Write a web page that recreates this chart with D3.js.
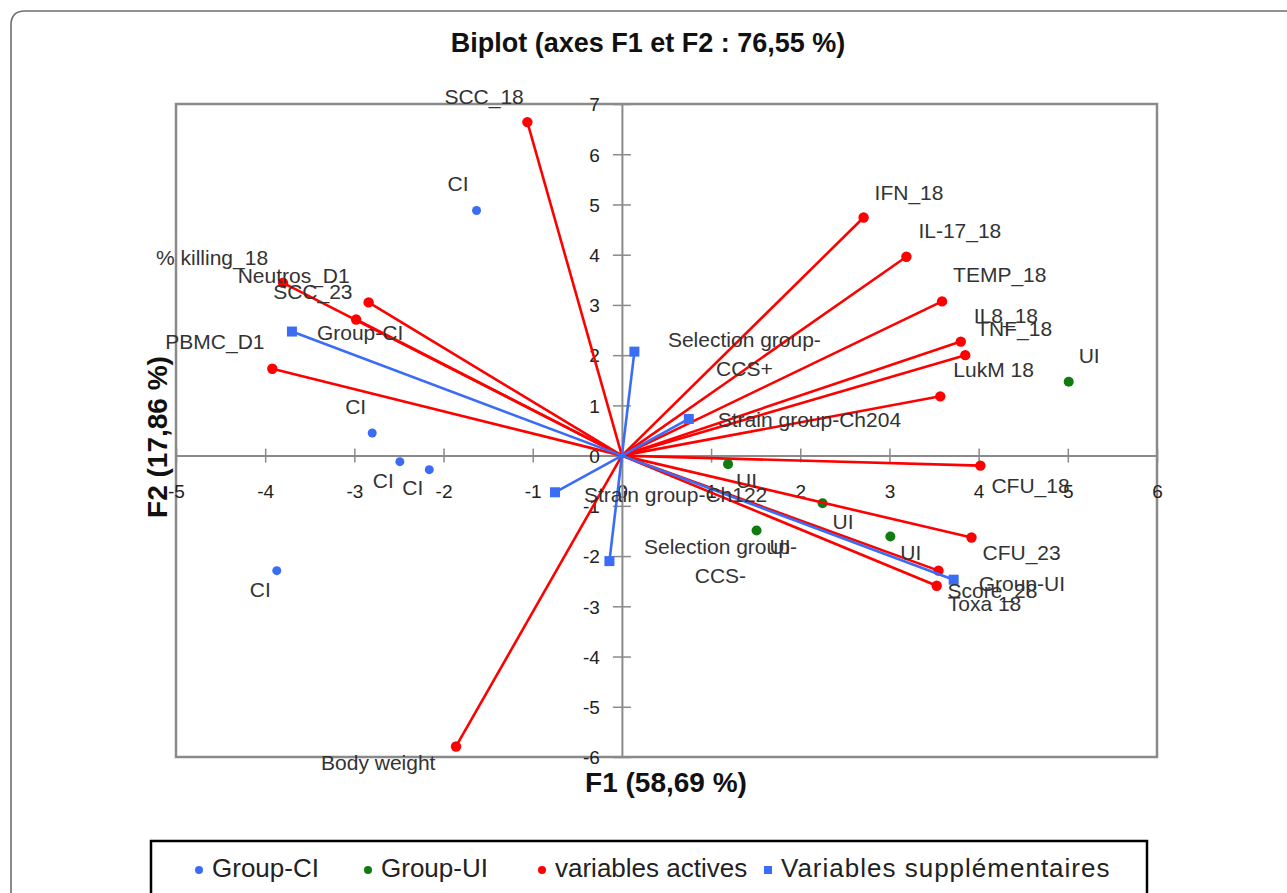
<!DOCTYPE html>
<html>
<head>
<meta charset="utf-8">
<script src="https://cdn.jsdelivr.net/npm/d3@7"></script>
<style>
  body { margin: 0; background: #fff; }
  text { font-family: "Liberation Sans", Arial, sans-serif; }
</style>
</head>
<body>
<div id="chart"></div>
<script>
// PCA biplot data (F1, F2 coordinates)
var ciNames = ["CI", "CI", "CI", "CI", "CI"];
var ciF1 = [-1.63, -2.80, -2.49, -2.16, -3.87];
var ciF2 = [4.88, 0.45, -0.12, -0.28, -2.29];

var uiNames = ["UI", "UI", "UI", "UI", "UI"];
var uiF1 = [5.01, 1.19, 2.25, 1.51, 3.01];
var uiF2 = [1.47, -0.17, -0.95, -1.49, -1.61];

var activeNames = ["SCC_18", "% killing_18", "Neutros_D1", "SCC_23", "PBMC_D1", "Body weight",
  "IFN_18", "IL-17_18", "TEMP_18", "IL8_18", "TNF_18", "LukM 18",
  "CFU_18", "CFU_23", "Score_28", "Toxa 18"];
var activeF1 = [-1.06, -3.80, -2.84, -2.98, -3.92, -1.86, 2.71, 3.19, 3.59, 3.80, 3.85, 3.57, 4.02, 3.92, 3.55, 3.53];
var activeF2 = [6.64, 3.44, 3.05, 2.71, 1.73, -5.79, 4.74, 3.96, 3.07, 2.27, 2.00, 1.18, -0.20, -1.63, -2.29, -2.59];

var suppNames = ["Group-CI", "Selection group-CCS+", "Strain group-Ch204", "Strain group-Ch122", "Selection group-CCS-", "Group-UI"];
var suppF1 = [-3.70, 0.14, 0.75, -0.75, -0.14, 3.72];
var suppF2 = [2.47, 2.07, 0.73, -0.73, -2.10, -2.47];

var xTicks = [-5, -4, -3, -2, -1, 0, 1, 2, 3, 4, 5, 6];
var yTicks = [-6, -5, -4, -3, -2, -1, 0, 1, 2, 3, 4, 5, 6, 7];

var legendNames = ["Group-CI", "Group-UI", "variables actives", "Variables supplémentaires"];

// label offsets in px (layout only), start of text / baseline relative to the point
var ciLabelOff = [[-29, -19], [-27, -19], [-27, 26], [-27, 25], [-27, 26]];
var uiLabelOff = [[10, -19], [8, 24], [10, 26], [13, 24], [10, 24]];
var activeLabelOff = [[-83, -18], [-127, -18], [-131, -19], [-83, -20], [-107, -20], [-135, 24],
  [11, -18], [12, -19], [11, -19], [13, -19], [11, -19], [13, -19],
  [11, 27], [11, 23], [9, 27], [11, 25]];
var suppLabelOff = [[25, 8], [110, -5], [29, 8], [29, 10], [111, -7], [25, 11]];

var svgWidth = 1287;
var svgHeight = 893;

var plot = { left: 176, right: 1157, top: 104, bottom: 757 };

var RED = "#ff0000", BLUE = "#3b6cf6", GREEN = "#117a11", AXIS = "#8a8a8a";

var svg = d3.select("#chart")
  .append("svg")
  .attr("width", svgWidth)
  .attr("height", svgHeight);

// outer rounded border (runs off right and bottom edge)
svg.append("path")
  .attr("d", "M11,900 L11,25 Q11,11 25,11 L1300,11")
  .attr("fill", "none")
  .attr("stroke", "#6e6e6e")
  .attr("stroke-width", 1.6);

var x = d3.scaleLinear().domain([-5, 6]).range([plot.left, plot.right]);
var y = d3.scaleLinear().domain([-6, 7]).range([plot.bottom, plot.top]);

// title
svg.append("text")
  .attr("x", 648)
  .attr("y", 52)
  .attr("text-anchor", "middle")
  .style("font-size", "27px")
  .style("font-weight", "bold")
  .attr("fill", "#111")
  .text("Biplot (axes F1 et F2 : 76,55 %)");

// plot frame
svg.append("rect")
  .attr("x", plot.left)
  .attr("y", plot.top)
  .attr("width", plot.right - plot.left)
  .attr("height", plot.bottom - plot.top)
  .attr("fill", "none")
  .attr("stroke", AXIS)
  .attr("stroke-width", 2.5);

// plain hyphen minus like the original
var tickFmt = d => String(d);

// x axis through y = 0
var xAxis = svg.append("g")
  .attr("transform", `translate(0, ${y(0)})`)
  .call(d3.axisBottom(x).tickValues(xTicks).tickSize(7).tickSizeOuter(0).tickFormat(tickFmt));
xAxis.select(".domain").attr("stroke", AXIS).attr("stroke-width", 2);
xAxis.selectAll(".tick line").attr("y1", -7).attr("y2", 7).attr("stroke", AXIS).attr("stroke-width", 1.5);
xAxis.selectAll(".tick text")
  .attr("y", 42)
  .attr("dy", 0)
  .attr("fill", "#222")
  .style("font-size", "19px")
  .style("font-family", "Liberation Sans, Arial, sans-serif");

// y axis through x = 0
var yAxis = svg.append("g")
  .attr("transform", `translate(${x(0)}, 0)`)
  .call(d3.axisLeft(y).tickValues(yTicks).tickSize(9).tickSizeOuter(0).tickFormat(tickFmt));
yAxis.select(".domain").attr("stroke", AXIS).attr("stroke-width", 2);
yAxis.selectAll(".tick line").attr("x1", -9).attr("x2", 9).attr("stroke", AXIS).attr("stroke-width", 1.5);
yAxis.selectAll(".tick text")
  .attr("x", -22)
  .attr("dy", "0.36em")
  .attr("fill", "#222")
  .style("font-size", "19px")
  .style("font-family", "Liberation Sans, Arial, sans-serif");

// axis titles
svg.append("text")
  .attr("x", 666)
  .attr("y", 792)
  .attr("text-anchor", "middle")
  .style("font-size", "28px")
  .style("font-weight", "bold")
  .attr("fill", "#111")
  .text("F1 (58,69 %)");

svg.append("text")
  .attr("transform", "translate(167, 437) rotate(-90)")
  .attr("text-anchor", "middle")
  .style("font-size", "28px")
  .style("font-weight", "bold")
  .attr("fill", "#111")
  .text("F2 (17,86 %)");

var chartGroup = svg.append("g");

// observations
chartGroup.selectAll(".ci")
  .data(ciF1)
  .enter()
  .append("circle")
  .attr("cx", (d, i) => x(ciF1[i]))
  .attr("cy", (d, i) => y(ciF2[i]))
  .attr("r", 4.5)
  .attr("fill", BLUE);

chartGroup.selectAll(".ui")
  .data(uiF1)
  .enter()
  .append("circle")
  .attr("cx", (d, i) => x(uiF1[i]))
  .attr("cy", (d, i) => y(uiF2[i]))
  .attr("r", 5)
  .attr("fill", GREEN);

// active variables: vectors + points
chartGroup.selectAll(".activeLine")
  .data(activeF1)
  .enter()
  .append("line")
  .attr("x1", x(0))
  .attr("y1", y(0))
  .attr("x2", (d, i) => x(activeF1[i]))
  .attr("y2", (d, i) => y(activeF2[i]))
  .attr("stroke", RED)
  .attr("stroke-width", 2.6);

chartGroup.selectAll(".activePt")
  .data(activeF1)
  .enter()
  .append("circle")
  .attr("cx", (d, i) => x(activeF1[i]))
  .attr("cy", (d, i) => y(activeF2[i]))
  .attr("r", 5.2)
  .attr("fill", RED);

// supplementary variables: vectors + squares
chartGroup.selectAll(".suppLine")
  .data(suppF1)
  .enter()
  .append("line")
  .attr("x1", x(0))
  .attr("y1", y(0))
  .attr("x2", (d, i) => x(suppF1[i]))
  .attr("y2", (d, i) => y(suppF2[i]))
  .attr("stroke", BLUE)
  .attr("stroke-width", 2.6);

chartGroup.selectAll(".suppPt")
  .data(suppF1)
  .enter()
  .append("rect")
  .attr("x", (d, i) => x(suppF1[i]) - 5)
  .attr("y", (d, i) => y(suppF2[i]) - 5)
  .attr("width", 10)
  .attr("height", 10)
  .attr("fill", BLUE);

// labels
function addLabels(names, f1, f2, offs) {
  names.forEach(function(name, i) {
    var px = x(f1[i]) + offs[i][0];
    var py = y(f2[i]) + offs[i][1];
    var m = name.match(/^(Selection group-)(.*)$/);
    var t = chartGroup.append("text")
      .attr("fill", "#333")
      .style("font-size", "21px");
    if (m) {
      t.attr("text-anchor", "middle");
      t.append("tspan").attr("x", px).attr("y", py).text(m[1]);
      t.append("tspan").attr("x", px).attr("y", py + 29).text(m[2]);
    } else {
      t.attr("x", px).attr("y", py).text(name);
    }
  });
}
addLabels(ciNames, ciF1, ciF2, ciLabelOff);
addLabels(uiNames, uiF1, uiF2, uiLabelOff);
addLabels(activeNames, activeF1, activeF2, activeLabelOff);
addLabels(suppNames, suppF1, suppF2, suppLabelOff);

// legend
svg.append("rect")
  .attr("x", 151)
  .attr("y", 841)
  .attr("width", 996)
  .attr("height", 80)
  .attr("fill", "none")
  .attr("stroke", "#000")
  .attr("stroke-width", 2.5);

var legendX = [199, 368, 542, 768];
var legendColors = [BLUE, GREEN, RED, BLUE];
legendNames.forEach(function(name, i) {
  var lg = svg.append("g");
  if (i === 3) {
    lg.append("rect")
      .attr("x", legendX[i] - 4).attr("y", 866).attr("width", 8).attr("height", 8)
      .attr("fill", legendColors[i]);
  } else {
    lg.append("circle")
      .attr("cx", legendX[i]).attr("cy", 870).attr("r", 4)
      .attr("fill", legendColors[i]);
  }
  lg.append("text")
    .attr("x", legendX[i] + 13)
    .attr("y", 877)
    .attr("fill", "#222")
    .style("font-size", "26px")
    .style("letter-spacing", i === 3 ? "1px" : null)
    .text(name);
});
</script>
</body>
</html>
